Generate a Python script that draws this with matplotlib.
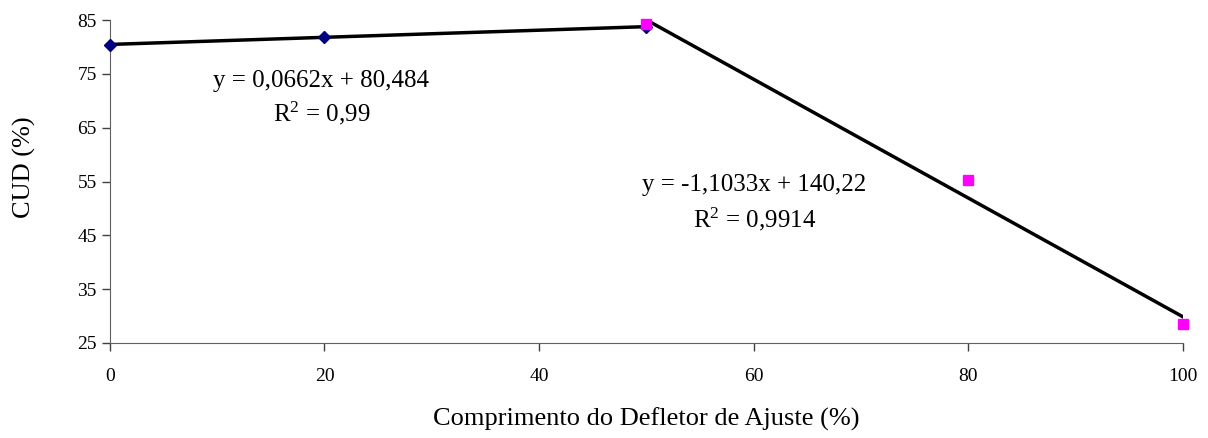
import numpy as np
import matplotlib.pyplot as plt

plt.rcParams['font.family'] = ['Liberation Serif', 'DejaVu Serif']
plt.rcParams['mathtext.fontset'] = 'custom'
plt.rcParams['mathtext.rm'] = 'Liberation Serif'
plt.rcParams['mathtext.it'] = 'Liberation Serif:italic'
plt.rcParams['mathtext.bf'] = 'Liberation Serif:bold'

# Data
x_blue = [0, 20, 50]
y_blue = [80.4, 81.8, 83.8]
x_pink = [50, 80, 100]
y_pink = [84.3, 55.2, 28.5]

# Trendline coefficients shown on the chart
coef_blue = [0.0662, 80.484]
coef_pink = [-1.1033, 140.22]

fig = plt.figure(figsize=(12.08, 4.38), dpi=100)
ax = fig.add_axes([0.091, 0.217, 0.888, 0.737])

# Trendlines
xb = np.array([x_blue[0], x_blue[-1]])
ax.plot(xb, coef_blue[0] * xb + coef_blue[1], color='black', linewidth=2.5, zorder=2)
xp = np.array([x_pink[0], x_pink[-1]])
ax.plot(xp, coef_pink[0] * xp + coef_pink[1], color='black', linewidth=2.5, zorder=2)

# Points
ax.plot(x_blue, y_blue, linestyle='none', marker='D', markersize=6, color='#000080', zorder=3, clip_on=False)
ax.plot(x_pink, y_pink, linestyle='none', marker='s', markersize=7, color='#ff00ff', zorder=4, clip_on=False)

ax.text(19.7, 73.6, 'y = 0,0662x + 80,484', fontsize=18, ha='center', va='center')
ax.text(19.7, 67.7, r'R$^{\mathrm{2}}$ = 0,99', fontsize=18, ha='center', va='center')
ax.text(60.1, 54.4, 'y = -1,1033x + 140,22', fontsize=18, ha='center', va='center')
ax.text(60.1, 48.0, r'R$^{\mathrm{2}}$ = 0,9914', fontsize=18, ha='center', va='center')

ax.set_xlim(0, 100)
ax.set_ylim(25, 85)
ax.set_xticks([0, 20, 40, 60, 80, 100])
ax.set_yticks([25, 35, 45, 55, 65, 75, 85])
ax.tick_params(labelsize=14, color='#404040', length=6, width=1)
ax.tick_params(axis='x', pad=12)

for s in ['top', 'right']:
    ax.spines[s].set_visible(False)
for s in ['left', 'bottom']:
    ax.spines[s].set_color('#606060')

ax.set_xlabel('Comprimento do Defletor de Ajuste (%)', fontsize=19, labelpad=16)
ax.set_ylabel('CUD (%)', fontsize=19)
ax.yaxis.set_label_coords(-0.069, 0.545)

fig.savefig('out.png', dpi=100)
